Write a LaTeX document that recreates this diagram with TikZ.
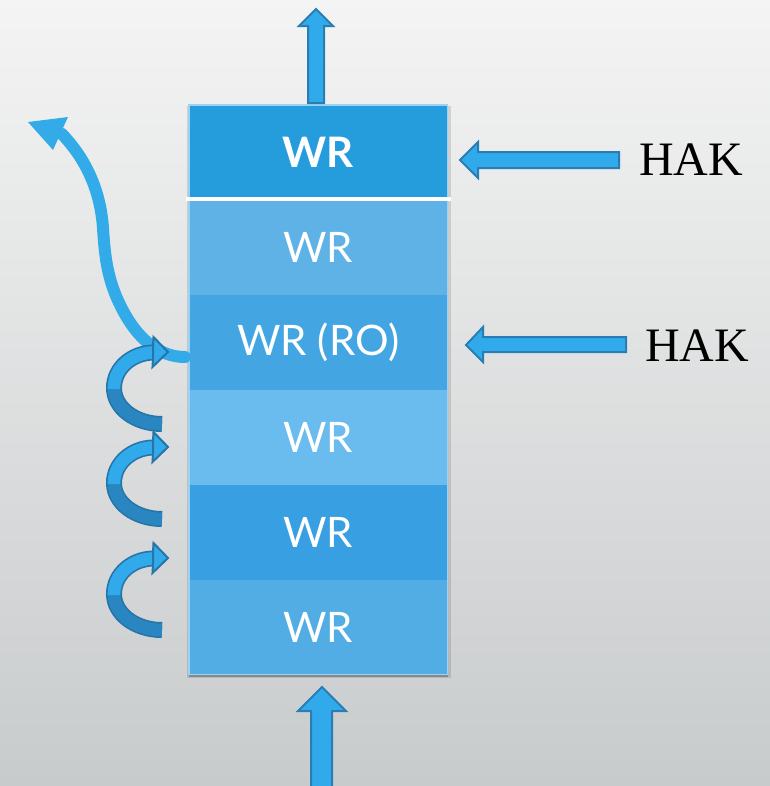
\documentclass[tikz,border=0pt]{standalone}
\usepackage{fontspec}
\setmainfont{Liberation Serif}
\newfontfamily\labelfont{Lato}
\usetikzlibrary{calc}
\definecolor{bgtop}{HTML}{F4F4F4}
\definecolor{bgbot}{HTML}{C8CBCC}
\definecolor{rowA}{HTML}{259DDC}
\definecolor{rowB}{HTML}{5FB2E5}
\definecolor{rowC}{HTML}{43A6E3}
\definecolor{rowD}{HTML}{6ABCEE}
\definecolor{rowE}{HTML}{38A0E2}
\definecolor{rowF}{HTML}{53ADE5}
\definecolor{arrfill}{HTML}{30AAEA}
\definecolor{arredge}{HTML}{2A7DB3}
\definecolor{curldark}{HTML}{2A86C0}
\definecolor{curledge}{HTML}{2675A8}
\definecolor{swirl}{HTML}{33ABE9}
\definecolor{rim}{HTML}{9ED2F2}
\tikzset{
  layer/.style={fill=#1, draw=none, minimum width=193.5pt,
    minimum height=71.25pt, inner sep=0pt, anchor=north west, text=white,
    font=\labelfont\fontsize{31.5}{36}\selectfont},
  blockarrow/.style={fill=arrfill, draw=arredge, line width=1.5pt, line join=miter},
  haklabel/.style={font=\fontsize{36}{40}\selectfont, anchor=west, inner sep=0pt},
}
\newcommand{\curlarrow}[1]{%
  % #1 = vertical centre of the half-ellipse; lower half dark, upper half light
  \draw[curledge, line width=12pt]
    (162,#1+36) .. controls (135.5,#1+36) and (114,#1+20) .. (114,#1)
    .. controls (114,#1-20) and (132,#1-35) .. (153,#1-35.5);
  \draw[curldark, line width=9.5pt]
    (162,#1+36) .. controls (135.5,#1+36) and (114,#1+20) .. (114,#1);
  \draw[arrfill, line width=9.5pt]
    (114,#1+1) -- (114,#1) .. controls (114,#1-20) and (132,#1-35) .. (153,#1-35.5);
  \filldraw[fill=arrfill, draw=curledge, line width=1.5pt]
    (153.5,#1-36-15) -- (168,#1-36) -- (152.5,#1-36+15) -- (153,#1-36+6) -- (153,#1-36-6) -- cycle;
}
\begin{document}
\begin{tikzpicture}[x=0.75pt,y=-0.75pt]
  % background
  \shade[top color=bgtop, bottom color=bgbot] (0,0) rectangle (770,786);
  \useasboundingbox (0,0) rectangle (770,786);
  \fill[black, opacity=0.12] (187,106) rectangle (451,678);
  \fill[black, opacity=0.25] (189,672) rectangle (448,677);

  % stack of layers
  \node[layer=rowA, font=\labelfont\bfseries\fontsize{31.5}{36}\selectfont] (r1) at (189,105) {WR};
  \node[layer=rowB] (r2) at (189,200) {WR};
  \node[layer=rowC] (r3) at (189,295) {WR (RO)};
  \node[layer=rowD] (r4) at (189,390) {WR};
  \node[layer=rowE] (r5) at (189,485) {WR};
  \node[layer=rowF, minimum height=70.5pt] (r6) at (189,580) {WR};
  \draw[rim, line width=0.8pt] (r1.north west) rectangle (r6.south east);
  \draw[white, line width=2.4pt] (186,199) -- (451,199);

  % vertical block arrows
  \draw[blockarrow] (308,103) -- (308,26) -- (299,26) -- (316,9) -- (333,26) -- (324,26) -- (324,103) -- cycle;
  \draw[blockarrow] (311,790) -- (311,711) -- (298,711) -- (322,687) -- (346,711) -- (332,711) -- (332,790) -- cycle;

  % labels on the right with their arrows
  \node[haklabel] (h1) at (639,160) {HAK};
  \node[haklabel] (h2) at (645,346) {HAK};
  \draw[blockarrow] (619,152) -- (478,152) -- (478,142) -- (460,160) -- (478,178) -- (478,168) -- (619,168) -- cycle;
  \draw[blockarrow] (626,337) -- (483,337) -- (483,327) -- (466,345) -- (483,362) -- (483,352) -- (626,352) -- cycle;

  % long sweeping arrow
  \draw[swirl, line width=9pt, line cap=round]
    (185,357) .. controls (160,357) and (140,340) .. (126,316)
    .. controls (108,285) and (105,260) .. (103,228)
    .. controls (100,185) and (82,155) .. (62,134);
  \fill[swirl] (28,122) -- (68,117) -- (53,150) -- cycle;

  % curled arrows on the left
  \curlarrow{388}
  \curlarrow{483}
  \curlarrow{594}
\end{tikzpicture}
\end{document}
